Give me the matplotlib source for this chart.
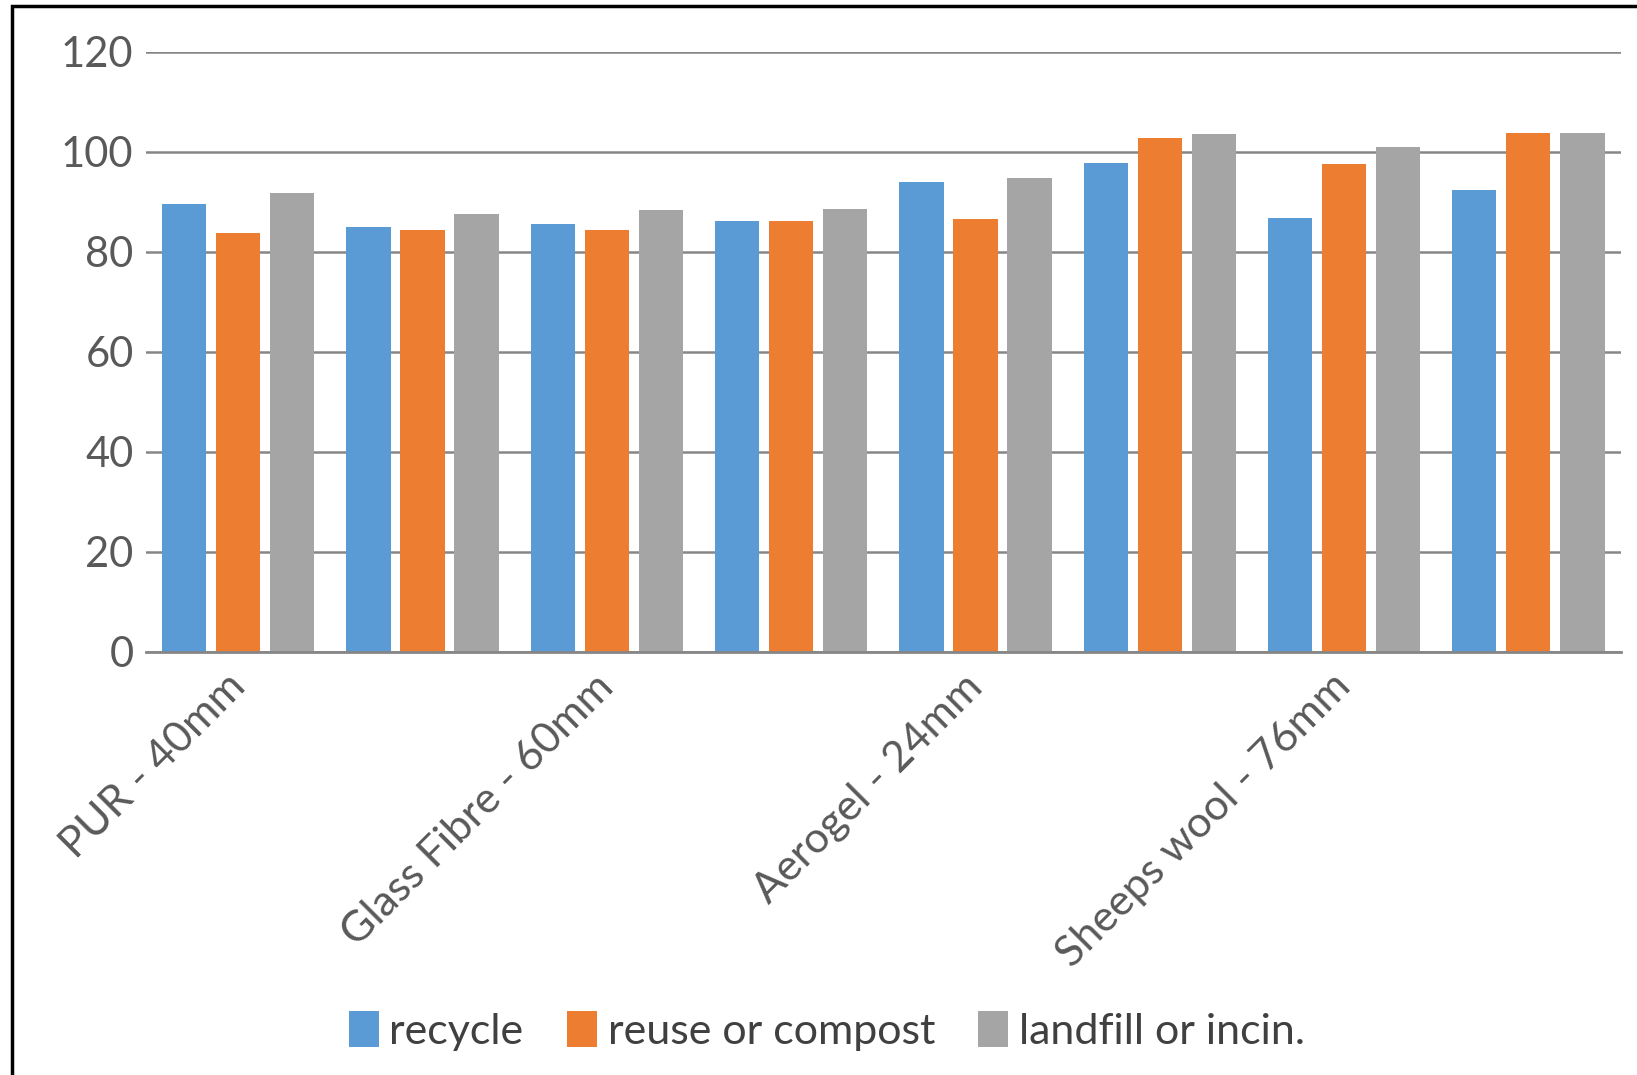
import matplotlib
matplotlib.use("Agg")
import matplotlib.pyplot as plt
import matplotlib.patches as patches
import matplotlib.transforms as mtransforms
import numpy as np

plt.rcParams["font.family"] = ["Lato", "DejaVu Sans"]

# insulation options, only every other one gets a visible axis label
categories = ["PUR - 40mm", "", "Glass Fibre - 60mm", "", "Aerogel - 24mm", "",
              "Sheeps wool - 76mm", ""]
series_names = ["recycle", "reuse or compost", "landfill or incin."]
recycle = [89.6, 85.0, 85.6, 86.2, 94.0, 97.8, 86.8, 92.4]
reuse_compost = [83.8, 84.4, 84.4, 86.2, 86.6, 102.8, 97.6, 103.8]
landfill_incin = [91.8, 87.6, 88.4, 88.6, 94.8, 103.6, 101.0, 103.8]
colors = ["#5B9BD5", "#ED7D31", "#A5A5A5"]
yticks = [0, 20, 40, 60, 80, 100, 120]

fig = plt.figure(figsize=(16.37, 10.75), dpi=100)
ax = fig.add_axes([0.0892, 0.3935, 0.9008, 0.5584])

x = np.arange(len(categories))
width = 0.239
step = 0.293
for i, (vals, name) in enumerate(zip([recycle, reuse_compost, landfill_incin], series_names)):
    ax.bar(x + (i - 1) * step, vals, width, color=colors[i], label=name, zorder=3)

ax.set_xlim(-0.5, len(categories) - 0.5)
ax.set_ylim(0, 120)
ax.set_yticks(yticks)
ax.set_yticklabels([str(v) for v in yticks])
ax.set_xticks(x)
ax.set_xticklabels([])

# slanted category labels, set a bit left of and below each group centre
label_tf = mtransforms.blended_transform_factory(ax.transData, ax.transAxes) + \
    mtransforms.ScaledTranslation(-0.13, -0.15, fig.dpi_scale_trans)
for xi, name in zip(x, categories):
    if name:
        ax.text(xi, 0, name, transform=label_tf, rotation=45, ha="right", va="top",
                rotation_mode="anchor", fontsize=31, color="#595959")

ax.grid(axis="y", color="#868686", linewidth=1.8, zorder=0)
ax.tick_params(axis="both", length=0, labelsize=30, labelcolor="#595959")
ax.tick_params(axis="y", pad=9)
for side in ["top", "right", "left"]:
    ax.spines[side].set_visible(False)
ax.spines["bottom"].set_color("#868686")
ax.spines["bottom"].set_linewidth(2)
ax.spines["bottom"].set_zorder(4)

fig.legend(loc="center", bbox_to_anchor=(0.505, 0.041), ncol=3, frameon=False,
           fontsize=31, labelcolor="#404040", handlelength=0.7, handleheight=0.9,
           handletextpad=0.25, columnspacing=1.0)

# outer chart border, runs off the right and bottom edges
fig.patches.append(patches.Rectangle((0.0073, -0.05), 1.1, 0.0444 + 1.0,
                                     transform=fig.transFigure, fill=False,
                                     edgecolor="black", linewidth=2.5))

fig.savefig("out.png", dpi=100)
